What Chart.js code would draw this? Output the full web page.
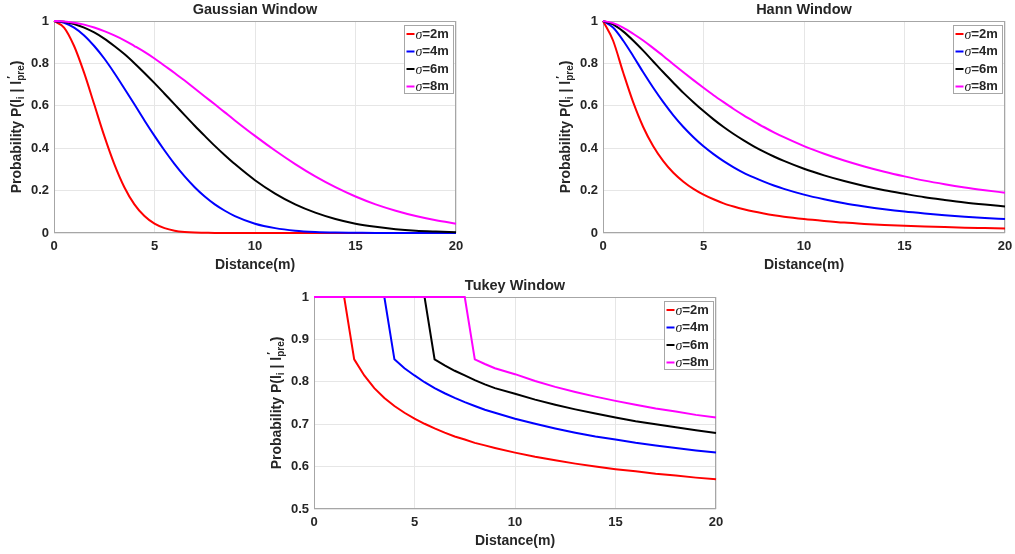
<!DOCTYPE html>
<html>
<head>
<meta charset="utf-8">
<script src="https://cdn.jsdelivr.net/npm/chart.js@4.4.0/dist/chart.umd.min.js"></script>
<style>
  html, body { margin: 0; padding: 0; background: #fff; }
  body { width: 1015px; height: 554px; position: relative; overflow: hidden; }
  .box { position: absolute; width: 470px; height: 275px; }
</style>
</head>
<body>
<div class="box" style="left:0;top:0"><canvas id="gauss" width="470" height="275"></canvas></div>
<div class="box" style="left:549px;top:0"><canvas id="hann" width="470" height="275"></canvas></div>
<div class="box" style="left:260px;top:276px"><canvas id="tukey" width="470" height="275"></canvas></div>
<script>
// data (distance in m)
const distance = [0,0.5,1,1.5,2,2.5,3,3.5,4,4.5,5,5.5,6,6.5,7,7.5,8,8.5,9,10,11,12,13,14,15,16,17,18,19,20];
const sigmaLabels = ['σ=2m', 'σ=4m', 'σ=6m', 'σ=8m'];
const lineColors = ['#ff0000', '#0000ff', '#000000', '#ff00ff'];

const gauss2 = [1,0.969,0.882,0.755,0.607,0.458,0.325,0.216,0.135,0.08,0.044,0.023,0.011,0.005,0.002,0.001,0,0,0,0,0,0,0,0,0,0,0,0,0,0];
const gauss4 = [1,0.992,0.969,0.932,0.882,0.823,0.755,0.682,0.607,0.531,0.458,0.389,0.325,0.267,0.216,0.172,0.135,0.105,0.08,0.044,0.023,0.011,0.005,0.002,0.001,0,0,0,0,0];
const gauss6 = [1,0.997,0.986,0.969,0.946,0.917,0.882,0.844,0.801,0.755,0.707,0.657,0.607,0.556,0.506,0.458,0.411,0.367,0.325,0.249,0.186,0.135,0.096,0.066,0.044,0.029,0.018,0.011,0.007,0.004];
const gauss8 = [1,0.998,0.992,0.983,0.969,0.952,0.932,0.909,0.882,0.854,0.823,0.789,0.755,0.719,0.682,0.644,0.607,0.569,0.531,0.458,0.389,0.325,0.267,0.216,0.172,0.135,0.105,0.08,0.06,0.044];

const hann2 = [1,0.908,0.758,0.617,0.5,0.409,0.339,0.284,0.242,0.208,0.181,0.159,0.14,0.125,0.112,0.101,0.092,0.084,0.077,0.066,0.057,0.049,0.043,0.038,0.034,0.031,0.028,0.025,0.023,0.021];
const hann4 = [1,0.969,0.908,0.835,0.758,0.685,0.617,0.555,0.5,0.452,0.409,0.372,0.339,0.31,0.284,0.262,0.242,0.224,0.208,0.181,0.159,0.14,0.125,0.112,0.101,0.092,0.084,0.077,0.071,0.066];
const hann6 = [1,0.984,0.951,0.908,0.86,0.809,0.758,0.709,0.661,0.617,0.575,0.536,0.5,0.467,0.437,0.409,0.384,0.361,0.34,0.303,0.272,0.245,0.222,0.202,0.185,0.169,0.156,0.144,0.134,0.125];
const hann8 = [1,0.99,0.969,0.94,0.908,0.872,0.835,0.796,0.758,0.721,0.685,0.65,0.617,0.585,0.555,0.527,0.5,0.475,0.452,0.41,0.374,0.342,0.314,0.289,0.267,0.247,0.23,0.215,0.202,0.19];

const tukey2 = [1,1,1,1,0.853,0.815,0.785,0.762,0.743,0.727,0.713,0.701,0.69,0.68,0.671,0.664,0.656,0.65,0.644,0.633,0.623,0.615,0.607,0.6,0.594,0.589,0.583,0.579,0.574,0.57];
const tukey4 = [1,1,1,1,1,1,1,1,0.853,0.832,0.815,0.799,0.785,0.773,0.762,0.752,0.743,0.734,0.727,0.713,0.701,0.69,0.68,0.671,0.664,0.656,0.65,0.644,0.638,0.633];
const tukey6 = [1,1,1,1,1,1,1,1,1,1,1,1,0.853,0.839,0.826,0.815,0.804,0.794,0.785,0.772,0.758,0.746,0.735,0.725,0.716,0.707,0.7,0.693,0.686,0.679];
const tukey8 = [1,1,1,1,1,1,1,1,1,1,1,1,1,1,1,1,0.853,0.842,0.832,0.818,0.802,0.788,0.776,0.765,0.755,0.746,0.737,0.73,0.722,0.716];

const xTicks = [0, 5, 10, 15, 20];
const yTicksProb = [0, 0.2, 0.4, 0.6, 0.8, 1];
const yTicksTukey = [0.5, 0.6, 0.7, 0.8, 0.9, 1];

const TXT = '#262626';
const SANS = '"Liberation Sans", Arial, Helvetica, sans-serif';
const SERIF = '"Liberation Serif", "Times New Roman", serif';

// y title with sub / superscripts: Probability P(l_i | l'_pre)
function drawYTitle(ctx, cx, cy) {
  const parts = [
    { t: 'Probability P(l', dy: 0, size: 14 },
    { t: 'i', dy: 4, size: 10 },
    { t: ' | l', dy: 0, size: 14 },
    { t: '′', dy: -5, size: 11, stack: true },
    { t: 'pre', dy: 4, size: 10 },
    { t: ')', dy: 0, size: 14 }
  ];
  let total = 0, held = 0;
  parts.forEach(p => {
    ctx.font = `bold ${p.size}px ${SANS}`;
    p.w = ctx.measureText(p.t).width;
    if (p.stack) { held = p.w; return; }
    total += Math.max(p.w, held); held = 0;
  });
  ctx.save();
  ctx.translate(cx, cy);
  ctx.rotate(-Math.PI / 2);
  ctx.textAlign = 'left';
  ctx.textBaseline = 'middle';
  ctx.fillStyle = TXT;
  let x = -total / 2;
  held = 0;
  parts.forEach(p => {
    ctx.font = `bold ${p.size}px ${SANS}`;
    ctx.fillText(p.t, x + (p.stack ? 2 : 0), p.dy);
    if (p.stack) { held = p.w; return; }
    x += Math.max(p.w, held); held = 0;
  });
  ctx.restore();
}

const decor = {
  id: 'decor',
  beforeDatasetsDraw(chart) {
    const { ctx, chartArea: a } = chart;
    ctx.save();
    ctx.strokeStyle = '#a6a6a6';
    ctx.lineWidth = 1;
    ctx.strokeRect(Math.round(a.left) + 0.5, Math.round(a.top) + 0.5, Math.round(a.width) - 1, Math.round(a.height) - 1);
    ctx.restore();
  },
  afterDraw(chart, args, opts) {
    const { ctx, chartArea: a } = chart;
    const mid = (a.left + a.right) / 2;
    ctx.save();
    ctx.fillStyle = TXT;
    ctx.textAlign = 'center';
    ctx.textBaseline = 'middle';
    ctx.font = `bold 14.5px ${SANS}`;
    ctx.fillText(opts.title, mid, 10);
    ctx.font = `bold 14px ${SANS}`;
    ctx.fillText('Distance(m)', mid, 265);
    drawYTitle(ctx, 17, (a.top + a.bottom) / 2);

    // legend box, top right inside the axes
    const bw = 49, bh = 68;
    const bx = Math.round(a.right - bw - 3) + 0.5, by = Math.round(a.top + 4) + 0.5;
    ctx.fillStyle = '#fff';
    ctx.fillRect(bx, by, bw, bh);
    ctx.strokeStyle = '#a6a6a6';
    ctx.lineWidth = 1;
    ctx.strokeRect(bx, by, bw, bh);
    ctx.textAlign = 'left';
    chart.data.datasets.forEach((ds, i) => {
      const y = by + 8.5 + i * 17.5;
      ctx.strokeStyle = ds.borderColor;
      ctx.lineWidth = 2;
      ctx.beginPath();
      ctx.moveTo(bx + 2, y);
      ctx.lineTo(bx + 10, y);
      ctx.stroke();
      ctx.fillStyle = TXT;
      ctx.font = `italic 14px ${SERIF}`;
      ctx.fillText(ds.label.charAt(0), bx + 11, y + 1);
      const sw = ctx.measureText(ds.label.charAt(0)).width;
      ctx.font = `bold 13px ${SANS}`;
      ctx.fillText(ds.label.slice(1), bx + 11 + sw, y);
    });
    ctx.restore();
  }
};

function makeChart(id, title, series, yTicks, smooth) {
  return new Chart(document.getElementById(id), {
    type: 'line',
    data: {
      datasets: series.map((vals, i) => ({
        label: sigmaLabels[i],
        data: distance.map((d, j) => ({ x: d, y: vals[j] })),
        borderColor: lineColors[i],
        borderWidth: 2,
        pointRadius: 0,
        fill: false,
        clip: 4,
        order: series.length - 1 - i, // later series painted on top, like MATLAB
        tension: 0,
        cubicInterpolationMode: smooth ? 'monotone' : 'default'
      }))
    },
    options: {
      responsive: false,
      animation: false,
      events: [],
      layout: { padding: { left: 0, top: 21, right: 14, bottom: 0 } },
      plugins: { legend: { display: false }, tooltip: { enabled: false }, decor: { title } },
      scales: {
        x: {
          type: 'linear', min: xTicks[0], max: xTicks[xTicks.length - 1],
          afterBuildTicks: s => { s.ticks = xTicks.map(v => ({ value: v })); },
          afterFit: s => { s.height = 42; },
          grid: { color: '#e6e6e6', drawTicks: false },
          border: { display: false },
          ticks: { color: TXT, font: { family: SANS, size: 13, weight: 'bold' }, padding: 6, maxRotation: 0,
                   callback: v => String(v) }
        },
        y: {
          type: 'linear', min: yTicks[0], max: yTicks[yTicks.length - 1],
          afterBuildTicks: s => { s.ticks = yTicks.map(v => ({ value: v })); },
          afterFit: s => { s.width = 54; },
          grid: { color: '#e6e6e6', drawTicks: false },
          border: { display: false },
          ticks: { color: TXT, font: { family: SANS, size: 13, weight: 'bold' }, padding: 5,
                   callback: v => String(v) }
        }
      }
    },
    plugins: [decor]
  });
}

makeChart('gauss', 'Gaussian Window', [gauss2, gauss4, gauss6, gauss8], yTicksProb, true);
makeChart('hann', 'Hann Window', [hann2, hann4, hann6, hann8], yTicksProb, true);
makeChart('tukey', 'Tukey Window', [tukey2, tukey4, tukey6, tukey8], yTicksTukey, false);
</script>
</body>
</html>
